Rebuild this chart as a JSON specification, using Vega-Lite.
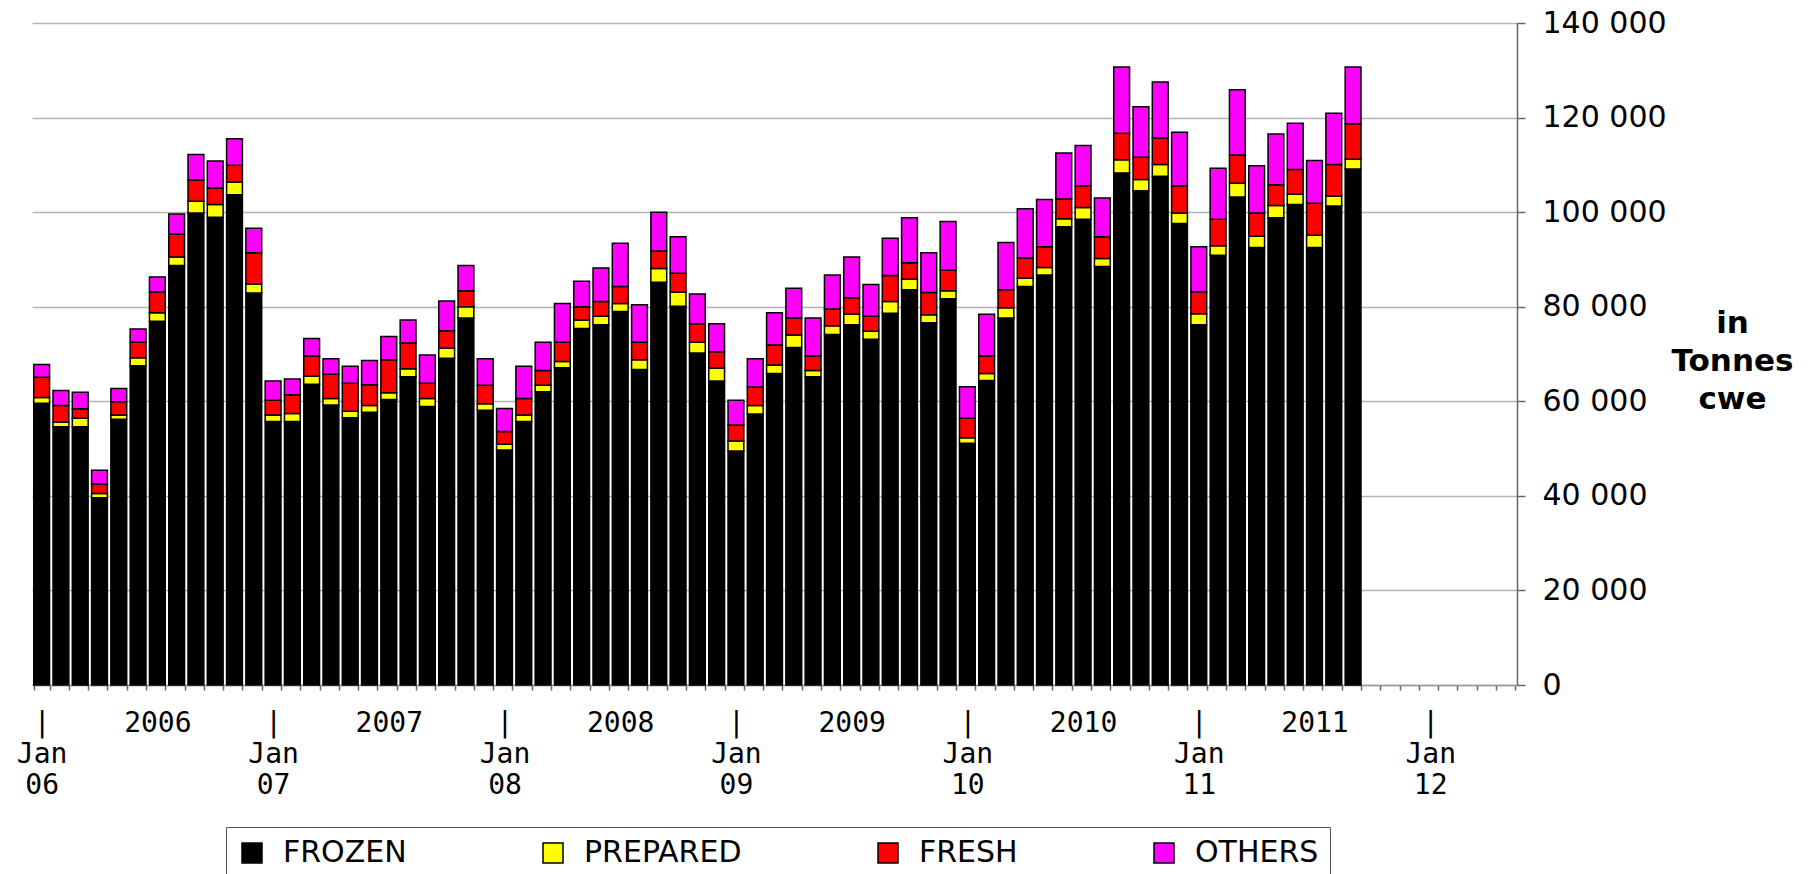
{
  "$schema": "https://vega.github.io/schema/vega-lite/v6.json",
  "autosize": {"type": "none"},
  "width": 1485,
  "height": 662,
  "padding": {"left": 32, "top": 23, "right": 297, "bottom": 189},
  "background": "#ffffff",
  "config": {"view": {"stroke": null}},
  "data": {
    "values": [
      {"month": "2006-01", "FROZEN": 59600, "PREPARED": 1200, "FRESH": 4300, "OTHERS": 2700},
      {"month": "2006-02", "FROZEN": 54600, "PREPARED": 1000, "FRESH": 3500, "OTHERS": 3200},
      {"month": "2006-03", "FROZEN": 54600, "PREPARED": 1800, "FRESH": 2000, "OTHERS": 3500},
      {"month": "2006-04", "FROZEN": 39600, "PREPARED": 900, "FRESH": 2000, "OTHERS": 2900},
      {"month": "2006-05", "FROZEN": 56200, "PREPARED": 900, "FRESH": 2800, "OTHERS": 2800},
      {"month": "2006-06", "FROZEN": 67500, "PREPARED": 1700, "FRESH": 3300, "OTHERS": 2800},
      {"month": "2006-07", "FROZEN": 76900, "PREPARED": 1800, "FRESH": 4400, "OTHERS": 3200},
      {"month": "2006-08", "FROZEN": 88700, "PREPARED": 1800, "FRESH": 4800, "OTHERS": 4300},
      {"month": "2006-09", "FROZEN": 99800, "PREPARED": 2500, "FRESH": 4500, "OTHERS": 5400},
      {"month": "2006-10", "FROZEN": 98900, "PREPARED": 2700, "FRESH": 3500, "OTHERS": 5700},
      {"month": "2006-11", "FROZEN": 103700, "PREPARED": 2700, "FRESH": 3500, "OTHERS": 5600},
      {"month": "2006-12", "FROZEN": 82900, "PREPARED": 1900, "FRESH": 6600, "OTHERS": 5200},
      {"month": "2007-01", "FROZEN": 55700, "PREPARED": 1400, "FRESH": 3100, "OTHERS": 4100},
      {"month": "2007-02", "FROZEN": 55700, "PREPARED": 1700, "FRESH": 4000, "OTHERS": 3300},
      {"month": "2007-03", "FROZEN": 63600, "PREPARED": 1700, "FRESH": 4300, "OTHERS": 3700},
      {"month": "2007-04", "FROZEN": 59200, "PREPARED": 1400, "FRESH": 5100, "OTHERS": 3300},
      {"month": "2007-05", "FROZEN": 56500, "PREPARED": 1400, "FRESH": 5900, "OTHERS": 3600},
      {"month": "2007-06", "FROZEN": 57700, "PREPARED": 1400, "FRESH": 4400, "OTHERS": 5100},
      {"month": "2007-07", "FROZEN": 60400, "PREPARED": 1400, "FRESH": 7000, "OTHERS": 4900},
      {"month": "2007-08", "FROZEN": 65200, "PREPARED": 1700, "FRESH": 5400, "OTHERS": 4900},
      {"month": "2007-09", "FROZEN": 58900, "PREPARED": 1700, "FRESH": 3200, "OTHERS": 6000},
      {"month": "2007-10", "FROZEN": 69100, "PREPARED": 2100, "FRESH": 3700, "OTHERS": 6300},
      {"month": "2007-11", "FROZEN": 77600, "PREPARED": 2400, "FRESH": 3400, "OTHERS": 5300},
      {"month": "2007-12", "FROZEN": 58100, "PREPARED": 1400, "FRESH": 3900, "OTHERS": 5600},
      {"month": "2008-01", "FROZEN": 49700, "PREPARED": 1200, "FRESH": 2700, "OTHERS": 4900},
      {"month": "2008-02", "FROZEN": 55700, "PREPARED": 1400, "FRESH": 3500, "OTHERS": 6800},
      {"month": "2008-03", "FROZEN": 62000, "PREPARED": 1400, "FRESH": 3100, "OTHERS": 6000},
      {"month": "2008-04", "FROZEN": 67100, "PREPARED": 1300, "FRESH": 4100, "OTHERS": 8200},
      {"month": "2008-05", "FROZEN": 75400, "PREPARED": 1800, "FRESH": 2800, "OTHERS": 5400},
      {"month": "2008-06", "FROZEN": 76200, "PREPARED": 1800, "FRESH": 3100, "OTHERS": 7100},
      {"month": "2008-07", "FROZEN": 79000, "PREPARED": 1700, "FRESH": 3600, "OTHERS": 9100},
      {"month": "2008-08", "FROZEN": 66700, "PREPARED": 2100, "FRESH": 3700, "OTHERS": 7900},
      {"month": "2008-09", "FROZEN": 85200, "PREPARED": 2900, "FRESH": 3700, "OTHERS": 8200},
      {"month": "2008-10", "FROZEN": 80100, "PREPARED": 3000, "FRESH": 4000, "OTHERS": 7700},
      {"month": "2008-11", "FROZEN": 70200, "PREPARED": 2300, "FRESH": 3900, "OTHERS": 6300},
      {"month": "2008-12", "FROZEN": 64300, "PREPARED": 2700, "FRESH": 3500, "OTHERS": 5900},
      {"month": "2009-01", "FROZEN": 49500, "PREPARED": 2100, "FRESH": 3400, "OTHERS": 5200},
      {"month": "2009-02", "FROZEN": 57300, "PREPARED": 1800, "FRESH": 3900, "OTHERS": 6000},
      {"month": "2009-03", "FROZEN": 65900, "PREPARED": 1800, "FRESH": 4200, "OTHERS": 6800},
      {"month": "2009-04", "FROZEN": 71400, "PREPARED": 2600, "FRESH": 3600, "OTHERS": 6300},
      {"month": "2009-05", "FROZEN": 65200, "PREPARED": 1300, "FRESH": 3100, "OTHERS": 8000},
      {"month": "2009-06", "FROZEN": 74100, "PREPARED": 1900, "FRESH": 3500, "OTHERS": 7200},
      {"month": "2009-07", "FROZEN": 76200, "PREPARED": 2200, "FRESH": 3500, "OTHERS": 8600},
      {"month": "2009-08", "FROZEN": 73100, "PREPARED": 1700, "FRESH": 3200, "OTHERS": 6700},
      {"month": "2009-09", "FROZEN": 78600, "PREPARED": 2500, "FRESH": 5500, "OTHERS": 7900},
      {"month": "2009-10", "FROZEN": 83600, "PREPARED": 2200, "FRESH": 3500, "OTHERS": 9500},
      {"month": "2009-11", "FROZEN": 76600, "PREPARED": 1700, "FRESH": 4700, "OTHERS": 8400},
      {"month": "2009-12", "FROZEN": 81700, "PREPARED": 1700, "FRESH": 4300, "OTHERS": 10300},
      {"month": "2010-01", "FROZEN": 51100, "PREPARED": 1200, "FRESH": 4100, "OTHERS": 6700},
      {"month": "2010-02", "FROZEN": 64400, "PREPARED": 1500, "FRESH": 3700, "OTHERS": 8800},
      {"month": "2010-03", "FROZEN": 77600, "PREPARED": 2200, "FRESH": 3800, "OTHERS": 10000},
      {"month": "2010-04", "FROZEN": 84300, "PREPARED": 1700, "FRESH": 4300, "OTHERS": 10400},
      {"month": "2010-05", "FROZEN": 86700, "PREPARED": 1600, "FRESH": 4400, "OTHERS": 10000},
      {"month": "2010-06", "FROZEN": 96900, "PREPARED": 1700, "FRESH": 4200, "OTHERS": 9700},
      {"month": "2010-07", "FROZEN": 98500, "PREPARED": 2500, "FRESH": 4600, "OTHERS": 8500},
      {"month": "2010-08", "FROZEN": 88500, "PREPARED": 1700, "FRESH": 4600, "OTHERS": 8200},
      {"month": "2010-09", "FROZEN": 108300, "PREPARED": 2800, "FRESH": 5600, "OTHERS": 14000},
      {"month": "2010-10", "FROZEN": 104500, "PREPARED": 2400, "FRESH": 4700, "OTHERS": 10700},
      {"month": "2010-11", "FROZEN": 107600, "PREPARED": 2500, "FRESH": 5600, "OTHERS": 11800},
      {"month": "2010-12", "FROZEN": 97600, "PREPARED": 2200, "FRESH": 5800, "OTHERS": 11300},
      {"month": "2011-01", "FROZEN": 76200, "PREPARED": 2300, "FRESH": 4600, "OTHERS": 9600},
      {"month": "2011-02", "FROZEN": 90900, "PREPARED": 2000, "FRESH": 5600, "OTHERS": 10800},
      {"month": "2011-03", "FROZEN": 103200, "PREPARED": 2900, "FRESH": 6000, "OTHERS": 13800},
      {"month": "2011-04", "FROZEN": 92500, "PREPARED": 2400, "FRESH": 4900, "OTHERS": 10000},
      {"month": "2011-05", "FROZEN": 98800, "PREPARED": 2600, "FRESH": 4400, "OTHERS": 10700},
      {"month": "2011-06", "FROZEN": 101600, "PREPARED": 2200, "FRESH": 5200, "OTHERS": 9800},
      {"month": "2011-07", "FROZEN": 92500, "PREPARED": 2600, "FRESH": 6800, "OTHERS": 9000},
      {"month": "2011-08", "FROZEN": 101300, "PREPARED": 2100, "FRESH": 6700, "OTHERS": 10800},
      {"month": "2011-09", "FROZEN": 109100, "PREPARED": 2100, "FRESH": 7500, "OTHERS": 12000}
    ]
  },
  "transform": [
    {"fold": ["FROZEN", "PREPARED", "FRESH", "OTHERS"], "as": ["type", "tonnes"]},
    {"window": [{"op": "row_number", "as": "layer"}], "groupby": ["month"]}
  ],
  "mark": {"type": "bar", "stroke": "#000000", "strokeWidth": 1.5},
  "encoding": {
    "x": {
      "field": "month",
      "type": "ordinal",
      "scale": {
        "domain": [
          "2006-01","2006-02","2006-03","2006-04","2006-05","2006-06","2006-07","2006-08","2006-09","2006-10","2006-11","2006-12",
          "2007-01","2007-02","2007-03","2007-04","2007-05","2007-06","2007-07","2007-08","2007-09","2007-10","2007-11","2007-12",
          "2008-01","2008-02","2008-03","2008-04","2008-05","2008-06","2008-07","2008-08","2008-09","2008-10","2008-11","2008-12",
          "2009-01","2009-02","2009-03","2009-04","2009-05","2009-06","2009-07","2009-08","2009-09","2009-10","2009-11","2009-12",
          "2010-01","2010-02","2010-03","2010-04","2010-05","2010-06","2010-07","2010-08","2010-09","2010-10","2010-11","2010-12",
          "2011-01","2011-02","2011-03","2011-04","2011-05","2011-06","2011-07","2011-08","2011-09","2011-10","2011-11","2011-12",
          "2012-01","2012-02","2012-03","2012-04","2012-05"
        ],
        "paddingInner": 0.18,
        "paddingOuter": 0.09
      },
      "axis": {
        "orient": "bottom",
        "title": null,
        "grid": false,
        "tickBand": "extent",
        "tickSize": 5,
        "tickColor": "#666666",
        "tickWidth": 1.5,
        "domainColor": "#999999",
        "domainWidth": 1.5,
        "labelExpr": "substring(datum.value,5,7)=='01' ? ['|', 'Jan', substring(datum.value,2,4)] : (substring(datum.value,5,7)=='07' ? substring(datum.value,0,4) : '')",
        "labelFont": "DejaVu Sans Mono",
        "labelFontSize": 28,
        "labelColor": "#000000",
        "labelAngle": 0,
        "labelAlign": "center",
        "labelBaseline": "top",
        "labelPadding": 19,
        "labelLineHeight": 31,
        "labelOverlap": false,
        "labelBound": false,
        "labelFlush": false
      }
    },
    "y": {
      "field": "tonnes",
      "type": "quantitative",
      "stack": "zero",
      "scale": {"domain": [0, 140000], "nice": false},
      "axis": {
        "orient": "right",
        "values": [0, 20000, 40000, 60000, 80000, 100000, 120000, 140000],
        "labelExpr": "replace(format(datum.value, ','), ',', ' ')",
        "labelFont": "DejaVu Sans",
        "labelFontSize": 30,
        "labelColor": "#000000",
        "labelPadding": 17,
        "tickSize": 8,
        "tickColor": "#666666",
        "tickWidth": 1.5,
        "domainColor": "#666666",
        "domainWidth": 1.5,
        "grid": true,
        "gridColor": "#b3b3b3",
        "gridWidth": 1.5,
        "title": ["in", "Tonnes", "cwe"],
        "titleFont": "DejaVu Sans",
        "titleFontWeight": "bold",
        "titleFontSize": 31,
        "titleLineHeight": 38,
        "titleColor": "#000000",
        "titleAngle": 0,
        "titleAlign": "center",
        "titleBaseline": "middle",
        "titleX": 215,
        "titleY": 300
      }
    },
    "order": {"field": "layer", "type": "quantitative", "sort": "ascending"},
    "color": {
      "field": "type",
      "type": "nominal",
      "sort": ["FROZEN", "PREPARED", "FRESH", "OTHERS"],
      "scale": {
        "domain": ["FROZEN", "PREPARED", "FRESH", "OTHERS"],
        "range": ["#000000", "#ffff00", "#ff0000", "#ff00ff"]
      },
      "legend": {
        "orient": "none",
        "legendX": 194,
        "legendY": 804,
        "direction": "horizontal",
        "columns": 4,
        "title": null,
        "symbolType": "square",
        "symbolSize": 400,
        "symbolStrokeColor": "#000000",
        "symbolStrokeWidth": 1.5,
        "symbolOpacity": 1,
        "labelFont": "DejaVu Sans",
        "labelFontSize": 30,
        "labelColor": "#000000",
        "labelOffset": 16,
        "labelLimit": 400,
        "columnPadding": 131,
        "padding": 11,
        "strokeColor": "#555555",
        "fillColor": "#ffffff"
      }
    }
  }
}
